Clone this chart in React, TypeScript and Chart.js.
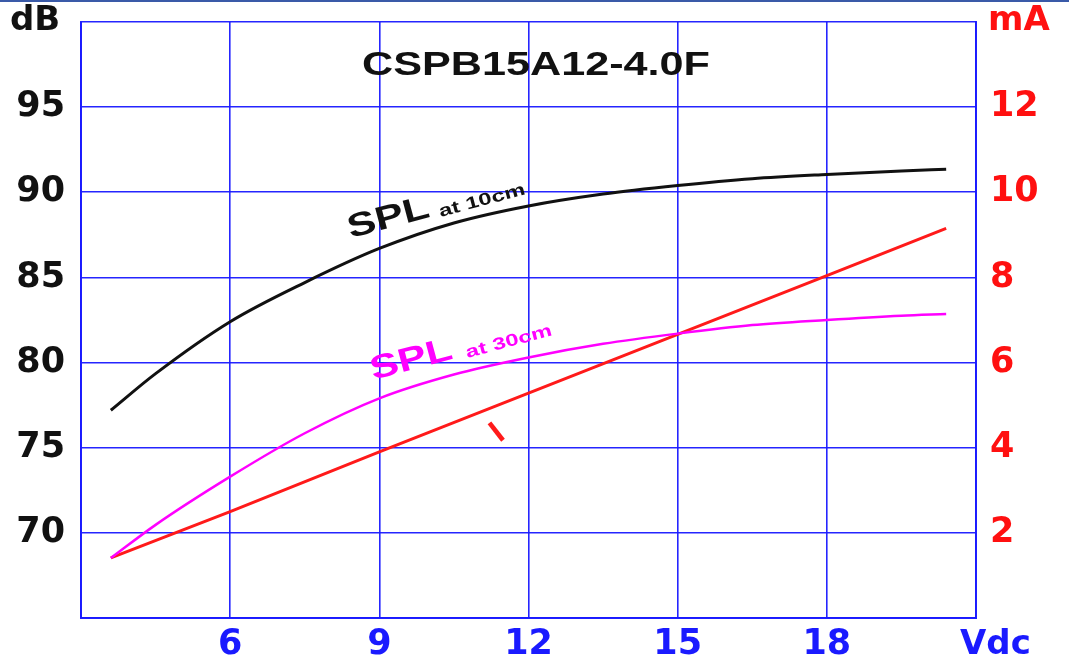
import React, { useEffect, useRef } from 'react';
import { Chart, registerables } from 'chart.js';

Chart.register(...registerables);

// ---- data ----
const volts = [3.6, 4.5, 6, 7.5, 9, 10.5, 12, 13.5, 15, 16.5, 18, 19.5, 20.4];
const spl10cm = [77.2, 79.35, 82.4, 84.7, 86.7, 88.2, 89.2, 89.9, 90.4, 90.8, 91.05, 91.25, 91.35];
const spl30cm = [68.52, 70.47, 73.3, 75.85, 77.9, 79.3, 80.3, 81.1, 81.7, 82.2, 82.5, 82.75, 82.85];
const currentVolts = [3.6, 6, 9, 12, 15, 18, 20.4];
const currentMA = [1.41, 2.5, 3.9, 5.28, 6.66, 8.04, 9.15];

const xTicks = [6, 9, 12, 15, 18];
const dbTicks = [70, 75, 80, 85, 90, 95];
const maTicks = [2, 4, 6, 8, 10, 12];

const title = 'CSPB15A12-4.0F';
const leftUnit = 'dB';
const rightUnit = 'mA';
const bottomUnit = 'Vdc';

const GRID = 'rgba(25,25,255,0.95)';
const TICK_FONT = { family: '"DejaVu Sans", sans-serif', size: 35, weight: 'bold' as const };

function rotText(ctx: CanvasRenderingContext2D, text: string, x: number, y: number, deg: number, font: string, color: string, sx: number) {
  ctx.save();
  ctx.translate(x, y);
  ctx.rotate((deg * Math.PI) / 180);
  ctx.scale(sx, 1);
  ctx.font = font;
  ctx.fillStyle = color;
  ctx.textAlign = 'left';
  ctx.textBaseline = 'alphabetic';
  ctx.fillText(text, 0, 0);
  ctx.restore();
}

const annotations = {
  id: 'annotations',
  afterDatasetsDraw(chart: any) {
    const ctx: CanvasRenderingContext2D = chart.ctx;
    const x = chart.scales.x;
    const y = chart.scales.y;
    const y1 = chart.scales.y1;
    // title
    ctx.save();
    ctx.font = 'bold 33px "Liberation Sans", Arial, sans-serif';
    const w = ctx.measureText(title).width;
    const sx = 348 / w;
    ctx.translate(536, 66);
    ctx.scale(sx, 1);
    ctx.fillStyle = '#111';
    ctx.textAlign = 'center';
    ctx.textBaseline = 'middle';
    ctx.fillText(title, 0, 0);
    ctx.restore();

    // curve labels
    rotText(ctx, 'SPL', x.getPixelForValue(8.42), y.getPixelForValue(87.3), -15, 'bold 33px "Liberation Sans", Arial, sans-serif', '#111', 1.3);
    rotText(ctx, 'at 10cm', x.getPixelForValue(10.23), y.getPixelForValue(88.55), -15, 'bold 17px "Liberation Sans", Arial, sans-serif', '#111', 1.4);
    rotText(ctx, 'SPL', x.getPixelForValue(8.88), y.getPixelForValue(78.98), -15, 'bold 33px "Liberation Sans", Arial, sans-serif', '#ff00ff', 1.3);
    rotText(ctx, 'at 30cm', x.getPixelForValue(10.77), y.getPixelForValue(80.27), -15, 'bold 17px "Liberation Sans", Arial, sans-serif', '#ff00ff', 1.4);

    // current label "I"
    ctx.save();
    ctx.translate(x.getPixelForValue(11.38), y1.getPixelForValue(4.34));
    ctx.rotate((-38 * Math.PI) / 180);
    ctx.font = 'bold 32px "Liberation Sans", Arial, sans-serif';
    ctx.fillStyle = '#ff1a1a';
    ctx.textAlign = 'center';
    ctx.textBaseline = 'middle';
    ctx.fillText('I', 0, 0);
    ctx.restore();

    // unit labels
    ctx.save();
    ctx.font = 'bold 34px "DejaVu Sans", sans-serif';
    ctx.textBaseline = 'middle';
    ctx.textAlign = 'left';
    ctx.fillStyle = '#111';
    ctx.fillText(leftUnit, 10, 21);
    ctx.fillStyle = '#ff1010';
    ctx.fillText(rightUnit, 988, 21);
    ctx.fillStyle = '#1a1aff';
    ctx.fillText(bottomUnit, 960, 645);
    ctx.restore();
  },
};

export default function App() {
  const ref = useRef<HTMLCanvasElement | null>(null);
  useEffect(() => {
    if (!ref.current) return;
    const chart = new Chart(ref.current, {
      type: 'line',
      data: {
        datasets: [
          {
            label: 'SPL at 10cm',
            data: volts.map((v, i) => ({ x: v, y: spl10cm[i] })),
            borderColor: '#111',
            borderWidth: 3,
            pointRadius: 0,
            cubicInterpolationMode: 'monotone',
            yAxisID: 'y',
          },
          {
            label: 'SPL at 30cm',
            data: volts.map((v, i) => ({ x: v, y: spl30cm[i] })),
            borderColor: '#ff00ff',
            borderWidth: 2.5,
            pointRadius: 0,
            cubicInterpolationMode: 'monotone',
            yAxisID: 'y',
          },
          {
            label: 'I',
            data: currentVolts.map((v, i) => ({ x: v, y: currentMA[i] })),
            borderColor: '#ff1a1a',
            borderWidth: 3,
            pointRadius: 0,
            tension: 0,
            yAxisID: 'y1',
          },
        ],
      },
      options: {
        animation: false,
        responsive: false,
        maintainAspectRatio: false,
        devicePixelRatio: 1,
        layout: { padding: { top: 22, left: 0, right: 0, bottom: 0 } },
        plugins: { legend: { display: false }, tooltip: { enabled: false } },
        scales: {
          x: {
            type: 'linear',
            min: 3,
            max: 21,
            afterFit: (s: any) => { s.height = 44; s.paddingLeft = 0; s.paddingRight = 0; },
            afterBuildTicks: (s: any) => { s.ticks = [3, ...xTicks, 21].map((v) => ({ value: v })); },
            ticks: {
              autoSkip: false,
              maxRotation: 0,
              padding: 6,
              color: '#1a1aff',
              font: TICK_FONT,
              callback: (v: any) => (xTicks.includes(v) ? String(v) : ''),
            },
            grid: { color: GRID, lineWidth: 1.6, drawTicks: false },
            border: { display: true, color: GRID, width: 2 },
          },
          y: {
            type: 'linear',
            position: 'left',
            min: 65,
            max: 100,
            afterFit: (s: any) => { s.width = 81; s.paddingTop = 0; s.paddingBottom = 0; },
            afterBuildTicks: (s: any) => { s.ticks = [65, ...dbTicks, 100].map((v) => ({ value: v })); },
            ticks: {
              padding: 16,
              color: '#111',
              font: TICK_FONT,
              callback: (v: any) => (dbTicks.includes(v) ? String(v) : ''),
            },
            grid: { color: GRID, lineWidth: 1.6, drawTicks: false },
            border: { display: true, color: GRID, width: 2 },
          },
          y1: {
            type: 'linear',
            position: 'right',
            min: 0,
            max: 14,
            afterFit: (s: any) => { s.width = 93; s.paddingTop = 0; s.paddingBottom = 0; },
            afterBuildTicks: (s: any) => { s.ticks = [0, ...maTicks, 14].map((v) => ({ value: v })); },
            ticks: {
              padding: 14,
              color: '#ff1010',
              font: TICK_FONT,
              callback: (v: any) => (maTicks.includes(v) ? String(v) : ''),
            },
            grid: { display: false, drawTicks: false },
            border: { display: true, color: GRID, width: 2 },
          },
        },
      },
      plugins: [annotations],
    } as any);
    return () => chart.destroy();
  }, []);
  return (
    <div style={{ position: 'fixed', left: 0, top: 0, width: 1069, height: 662, background: '#fff' }}>
      <div style={{ position: 'absolute', left: 0, top: 0, width: 1069, height: 2, background: '#3a5aa8' }} />
      <canvas ref={ref} width={1069} height={662} style={{ display: 'block' }} />
    </div>
  );
}
